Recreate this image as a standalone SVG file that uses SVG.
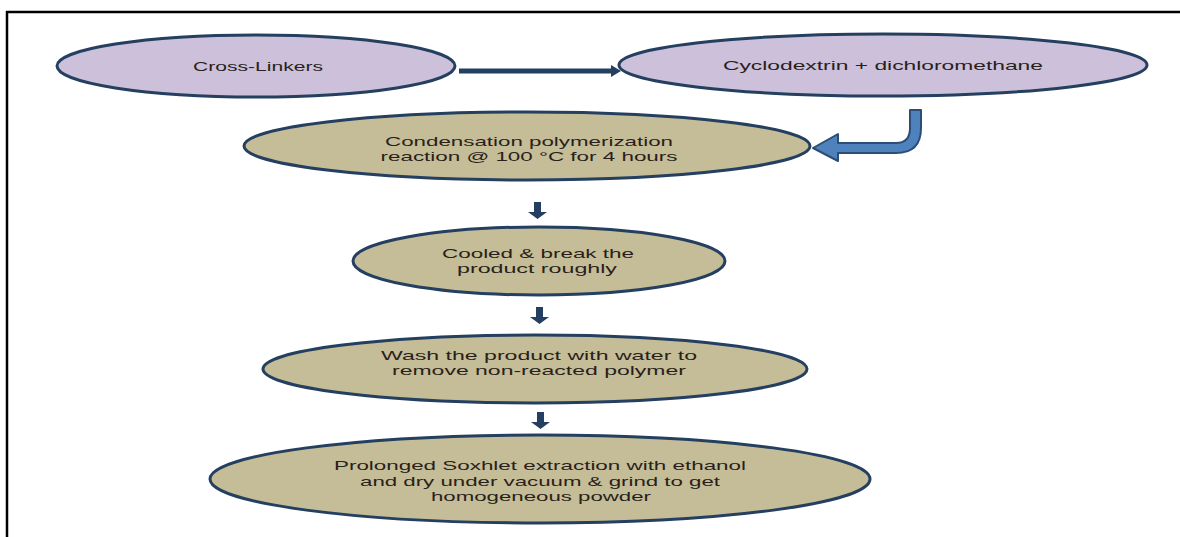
<svg xmlns="http://www.w3.org/2000/svg" width="1180" height="537" viewBox="0 0 1180 537">
<style>
.purple{fill:#ccc0da;stroke:#243f60;stroke-width:3}
.tan{fill:#c4bd97;stroke:#243f60;stroke-width:3}
text{font-family:"Liberation Sans","Open Sans",sans-serif;font-size:13px;fill:#2a1f1a;text-anchor:middle}
.down{fill:#243f60}
</style>
<rect width="1180" height="537" fill="#ffffff"/>
<g id="frame">
<line x1="6" y1="12" x2="1180" y2="12" stroke="#000" stroke-width="2.5"/>
<line x1="7" y1="11" x2="7" y2="537" stroke="#000" stroke-width="2.5"/>
</g>
<g id="connectors">
<path d="M459 68.5 L611 68.5 L611 65 L621 71 L611 77 L611 73.5 L459 73.5 Z" fill="#243f60"/>
<path d="M910 110 L921 110 L921 128 Q921 153 896 153 L838 153 L838 161 L813 148 L838 134 L838 143 L896 143 Q910 143 910 128 Z" fill="#4f81bd" stroke="#2c4d75" stroke-width="2" stroke-linejoin="round"/>
<path class="down" d="M534 202 L541 202 L541 212 L547 212 L537.5 219 L528 212 L534 212 Z"/>
<path class="down" d="M536 307 L543 307 L543 317 L549 317 L539.5 324 L530 317 L536 317 Z"/>
<path class="down" d="M537 412 L544 412 L544 422 L550 422 L540.5 429 L531 422 L537 422 Z"/>
</g>
<g id="n-crosslinkers">
<ellipse class="purple" cx="256" cy="66" rx="199" ry="31"/>
<text x="258" y="71" textLength="130" lengthAdjust="spacingAndGlyphs">Cross-Linkers</text>
</g>
<g id="n-cyclodextrin">
<ellipse class="purple" cx="883" cy="65" rx="264" ry="31"/>
<text x="883" y="70" textLength="320" lengthAdjust="spacingAndGlyphs">Cyclodextrin + dichloromethane</text>
</g>
<g id="n-condensation">
<ellipse class="tan" cx="527" cy="146" rx="283" ry="34"/>
<text x="529" y="146" textLength="288" lengthAdjust="spacingAndGlyphs">Condensation polymerization</text>
<text x="529" y="161" textLength="297" lengthAdjust="spacingAndGlyphs">reaction @ 100 °C for 4 hours</text>
</g>
<g id="n-cooled">
<ellipse class="tan" cx="539" cy="261" rx="186" ry="34"/>
<text x="538" y="258" textLength="192" lengthAdjust="spacingAndGlyphs">Cooled &amp; break the</text>
<text x="537" y="273" textLength="160" lengthAdjust="spacingAndGlyphs">product roughly</text>
</g>
<g id="n-wash">
<ellipse class="tan" cx="535" cy="369" rx="272" ry="34"/>
<text x="539" y="360" textLength="316" lengthAdjust="spacingAndGlyphs">Wash the product with water to</text>
<text x="539" y="375" textLength="294" lengthAdjust="spacingAndGlyphs">remove non-reacted polymer</text>
</g>
<g id="n-soxhlet">
<ellipse class="tan" cx="540" cy="479" rx="330" ry="44"/>
<text x="540" y="470" textLength="412" lengthAdjust="spacingAndGlyphs">Prolonged Soxhlet extraction with ethanol</text>
<text x="540" y="486" textLength="360" lengthAdjust="spacingAndGlyphs">and dry under vacuum &amp; grind to get</text>
<text x="541" y="501" textLength="220" lengthAdjust="spacingAndGlyphs">homogeneous powder</text>
</g>
</svg>
